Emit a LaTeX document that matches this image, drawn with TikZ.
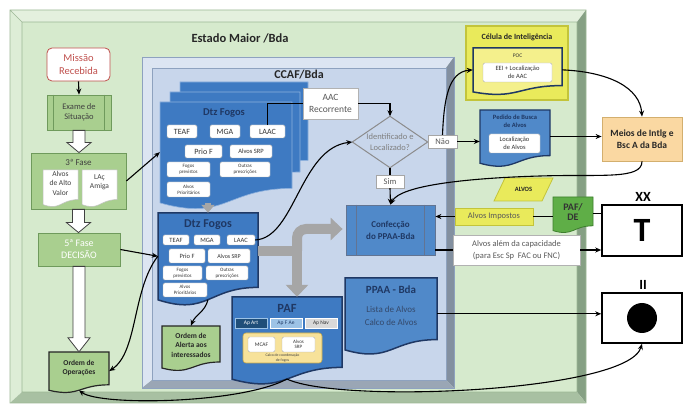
\documentclass[tikz,border=0pt]{standalone}
\usepackage{fontspec}
\setmainfont{Carlito}
\usetikzlibrary{arrows.meta,calc,fit}

\definecolor{gface}{HTML}{D6EACD}
\definecolor{gtop}{HTML}{E4F0DE}
\definecolor{gleft}{HTML}{DDEDD6}
\definecolor{gright}{HTML}{86A084}
\definecolor{gbot}{HTML}{A8C0A2}
\definecolor{gline}{HTML}{9DB896}
\definecolor{bface}{HTML}{C8D6EB}
\definecolor{btop}{HTML}{DCE5F2}
\definecolor{bdark}{HTML}{8390A0}
\definecolor{bbot}{HTML}{9AA6B5}
\definecolor{bline}{HTML}{8EA2BF}
\definecolor{dtzblue}{HTML}{3E7AC2}
\definecolor{dtzedge}{HTML}{8CB0DD}
\definecolor{navy}{HTML}{1F3864}
\definecolor{midblue}{HTML}{5089C9}
\definecolor{grfill}{HTML}{A9CF8F}
\definecolor{grdraw}{HTML}{6F9A5C}
\definecolor{ylw}{HTML}{E9EA5B}
\definecolor{ylwdraw}{HTML}{C3C43A}
\definecolor{lylw}{HTML}{F4F08C}
\definecolor{calco}{HTML}{F7E29A}
\definecolor{calcodraw}{HTML}{C9A94A}
\definecolor{orng}{HTML}{FAD8A2}
\definecolor{orngdraw}{HTML}{D3AF6E}
\definecolor{pafg}{HTML}{5FAE47}
\definecolor{pafgd}{HTML}{3D7F2D}
\definecolor{missred}{HTML}{C0504D}
\definecolor{apart}{HTML}{1F4E79}
\definecolor{apfae}{HTML}{9DC3E6}
\definecolor{apnav}{HTML}{D9D9D9}
\definecolor{garrow}{HTML}{A6A6A6}
\definecolor{txtgray}{HTML}{595959}
\definecolor{slate}{HTML}{34496B}

% document shape: style, name, x1, y1, x2, y2 (y downward)
\newcommand{\DocShape}[6]{%
  \path[#1] (#3,#4) -- (#5,#4) -- (#5,{#4+0.8*(#6-#4)})
    .. controls ({(#3+#5)/2},{#4+0.8*(#6-#4)}) and ({(#3+#5)/2},{#4+1.107*(#6-#4)}) ..
    (#3,{#4+0.934*(#6-#4)}) -- cycle;
  \node[inner sep=0pt, fit={(#3,#4) (#5,{#4+0.93*(#6-#4)})}] (#2) {};
}
% hollow downward arrow between two anchors: from, to, shaft half, head half, head length
\newcommand{\HollowDown}[5]{%
  \draw[fill=white, draw=black!75, line width=0.8pt] let \p1=(#1), \p2=(#2) in
    (\x1-#3pt,\y1) -- (\x1+#3pt,\y1) -- (\x1+#3pt,\y2+#5pt) -- (\x1+#4pt,\y2+#5pt)
    -- (\x1,\y2) -- (\x1-#4pt,\y2+#5pt) -- (\x1-#3pt,\y2+#5pt) -- cycle;
}

\begin{document}
\begin{tikzpicture}[x=1pt,y=-1pt,
  conn/.style={draw=black, line width=1.1pt},
  arr/.style={conn, -{Stealth[length=6pt,width=5pt]}},
  wbox/.style={draw=black!30, fill=white, rounded corners=1.5pt, inner sep=0pt, align=center, text=black!80},
  txt/.style={inner sep=0pt, align=center},
  gbox/.style={fill=grfill, draw=grdraw, line width=0.8pt, inner sep=0pt, align=center},
  gyarr/.style={draw=garrow, line width=10pt, -{Triangle[width=22pt,length=12pt]}}]

\useasboundingbox (0,0) rectangle (689,406);
\fill[white] (0,0) rectangle (689,406);

% ---------- green panel
\fill[gtop] (10,10) -- (586,10) -- (577,22) -- (22,22) -- cycle;
\fill[gleft] (10,10) -- (22,22) -- (22,392) -- (10,403) -- cycle;
\fill[gright] (586,10) -- (586,403) -- (577,392) -- (577,22) -- cycle;
\fill[gbot] (10,403) -- (22,392) -- (577,392) -- (586,403) -- cycle;
\fill[gface] (22,22) rectangle (577,392);
\draw[gline, line width=.7pt] (10,10) rectangle (586,403) (22,22) rectangle (577,392) (10,10) -- (22,22);

% ---------- CCAF panel
\fill[btop] (142,57) -- (454,57) -- (446,68) -- (152,68) -- cycle;
\fill[btop] (142,57) -- (152,68) -- (152,380) -- (142,388) -- cycle;
\fill[bdark] (454,57) -- (454,388) -- (446,380) -- (446,68) -- cycle;
\fill[bbot] (142,388) -- (152,380) -- (446,380) -- (454,388) -- cycle;
\fill[bface] (152,68) rectangle (446,380);
\draw[bline, line width=.6pt] (142,57) rectangle (454,388) (152,68) rectangle (446,380);

\node[txt, font=\bfseries\fontsize{12.5}{14}\selectfont, text=black!85] (emtitle) at (240,38) {Estado Maior /Bda};
\node[txt, font=\bfseries\fontsize{12}{14}\selectfont, text=black!85] (ccaftitle) at (299,75) {CCAF/Bda};

% ---------- left column
\node[draw=missred, fill=white, rounded corners=5pt, line width=0.8pt, minimum width=63, minimum height=33, align=center, inner sep=0pt, text=missred, font=\fontsize{10.5}{12.5}\selectfont] (miss) at (78.5,64.5) {Missão\\Recebida};

\node[gbox, minimum width=64, minimum height=35, font=\fontsize{8.5}{10}\selectfont, text=black!75] (exam) at (79,112.5) {Exame de\\Situação};
\draw[grdraw, line width=.8pt] ([xshift=7pt]exam.north west) -- ([xshift=7pt]exam.south west) ([xshift=-7pt]exam.north east) -- ([xshift=-7pt]exam.south east);

\node[gbox, minimum width=95, minimum height=56] (f3) at (78.5,181) {};
\node[txt, font=\fontsize{9}{10}\selectfont, text=black!75] (f3t) at (78.5,162) {3ª Fase};
\DocShape{fill=white, draw=black!25, line width=.5pt}{aav}{43}{170}{78}{207}
\node[txt, font=\fontsize{7.5}{9.5}\selectfont, text=black!75] (aavt) at (60.5,183) {Alvos\\de Alto\\Valor};
\DocShape{fill=white, draw=black!25, line width=.5pt}{lac}{82}{170}{117}{207}
\node[txt, font=\fontsize{7.5}{9.5}\selectfont, text=black!75] (lact) at (99.5,182) {LAç\\Amiga};

\node[gbox, minimum width=82, minimum height=33, text=white, font=\fontsize{10}{12}\selectfont] (f5) at (79,249.5) {5ª Fase\\DECISÃO};

\DocShape{fill=grfill, draw=black!85, line width=1.2pt}{oop}{49}{352}{109}{393}
\node[txt, font=\bfseries\fontsize{7.5}{9.5}\selectfont, text=black!85] (oopt) at (79,368) {Ordem de\\Operações};

\HollowDown{exam.south}{f3.north}{6}{12}{10}
\HollowDown{f3.south}{f5.north}{6}{12}{10}
\HollowDown{f5.south}{oop.north}{6}{11}{14}

% ---------- top Dtz Fogos stack
\DocShape{fill=dtzblue, draw=dtzedge, line width=.6pt}{dtzbb}{180}{82}{308}{180}
\DocShape{fill=dtzblue, draw=dtzedge, line width=.6pt}{dtzb}{170}{92}{300}{192}
\DocShape{fill=dtzblue, draw=dtzedge, line width=.6pt}{dtz1}{160}{102}{292}{210}
\node[txt, font=\bfseries\fontsize{10.5}{12}\selectfont, text=navy] (dtz1t) at (224,113) {Dtz Fogos};
\node[wbox, minimum width=30, minimum height=13, font=\fontsize{8}{9}\selectfont] (teaf1) at (182,131.5) {TEAF};
\node[wbox, minimum width=30, minimum height=13, font=\fontsize{8}{9}\selectfont] (mga1) at (225,131.5) {MGA};
\node[wbox, minimum width=35, minimum height=13, font=\fontsize{8}{9}\selectfont] (laac1) at (267.5,131.5) {LAAC};
\node[wbox, minimum width=37, minimum height=13, font=\fontsize{8}{9}\selectfont] (prio1) at (203.5,151.5) {Prio F};
\node[wbox, minimum width=42, minimum height=13, font=\fontsize{6.5}{7.5}\selectfont] (srp1) at (251,151.5) {Alvos SRP};
\node[wbox, minimum width=43, minimum height=15, font=\fontsize{5}{5.8}\selectfont] (fp1) at (188.5,169.5) {Fogos\\previstos};
\node[wbox, minimum width=50, minimum height=15, font=\fontsize{5}{5.8}\selectfont] (op1) at (245,169.5) {Outras\\prescrições};
\node[wbox, minimum width=43, minimum height=15, font=\fontsize{5}{5.8}\selectfont] (ap1) at (188.5,189.5) {Alvos\\Prioritários};

% ---------- lower Dtz Fogos
\DocShape{fill=dtzblue, draw=navy, line width=1.5pt}{dtz2}{158}{213}{258}{306}
\node[txt, font=\bfseries\fontsize{12}{14}\selectfont, text=navy] (dtz2t) at (208,225) {Dtz Fogos};
\node[wbox, minimum width=26, minimum height=10, font=\fontsize{6.5}{7}\selectfont] (teaf2) at (176,240) {TEAF};
\node[wbox, minimum width=26, minimum height=10, font=\fontsize{6.5}{7}\selectfont] (mga2) at (207,240) {MGA};
\node[wbox, minimum width=28, minimum height=10, font=\fontsize{6.5}{7}\selectfont] (laac2) at (241,240) {LAAC};
\node[wbox, minimum width=36, minimum height=14, font=\fontsize{6.5}{7}\selectfont] (prio2) at (187,256) {Prio F};
\node[wbox, minimum width=42, minimum height=14, font=\fontsize{6}{7}\selectfont] (srp2) at (229,256) {Alvos SRP};
\node[wbox, minimum width=39, minimum height=14, font=\fontsize{5}{5.8}\selectfont] (fp2) at (182.5,273) {Fogos\\previstos};
\node[wbox, minimum width=42, minimum height=14, font=\fontsize{5}{5.8}\selectfont] (op2) at (227,273) {Outras\\prescrições};
\node[wbox, minimum width=44, minimum height=14, font=\fontsize{5}{5.8}\selectfont] (ap2) at (185,290) {Alvos\\Prioritários};

% ---------- Ordem de Alerta
\DocShape{fill=grfill, draw=black!85, line width=1.2pt}{alerta}{162}{326}{220}{371}
\node[txt, font=\bfseries\fontsize{7.5}{9.5}\selectfont, text=black!85] (alertat) at (191,345) {Ordem de\\Alerta aos\\interessados};

% ---------- PAF
\DocShape{fill=dtzblue, draw=navy, line width=1.5pt}{paf}{232}{297}{342}{385}
\node[txt, font=\bfseries\fontsize{12.5}{14}\selectfont, text=navy] (paft) at (287,308) {PAF};
\node[draw=apfae, fill=apart, text=white, minimum width=32, minimum height=10, inner sep=0pt, font=\fontsize{5.5}{6}\selectfont] (apart) at (251,323) {Ap Art};
\node[draw=white, fill=apfae, text=navy, minimum width=32, minimum height=10, inner sep=0pt, font=\fontsize{5.5}{6}\selectfont] (apfae) at (286,323) {Ap F Ae};
\node[draw=white, fill=apnav, text=black!80, minimum width=32, minimum height=10, inner sep=0pt, font=\fontsize{5.5}{6}\selectfont] (apnav) at (321,323) {Ap Nav};
\node[fill=calco, draw=calcodraw, line width=.6pt, rounded corners=3pt, minimum width=79, minimum height=30, inner sep=0pt] (calco) at (282.5,348) {};
\node[wbox, minimum width=27, minimum height=15, font=\fontsize{5.5}{6}\selectfont] (mcaf) at (261.5,344.5) {MCAF};
\node[wbox, minimum width=33, minimum height=15, font=\fontsize{5}{5.5}\selectfont] (srp3) at (298.5,344.5) {Alvos\\SRP};
\node[txt, font=\fontsize{3.8}{4.3}\selectfont, text=black!75] (calcot) at (282.5,358) {Calco de coordenação\\de fogos};

% ---------- AAC, decision
\node[wbox, rounded corners=0pt, minimum width=55, minimum height=31, font=\fontsize{9.5}{12}\selectfont, text=txtgray] (aac) at (330.5,103.5) {AAC\\Recorrente};
\node[txt, minimum width=75, minimum height=51, text=black!50, font=\fontsize{8.5}{11}\selectfont] (dia) at (390,142) {Identificado e\\Localizado?};
\draw[black!45, line width=1pt] (dia.north) -- (dia.east) -- (dia.south) -- (dia.west) -- cycle;
\node[wbox, rounded corners=0pt, draw=black!35, minimum width=29, minimum height=13, font=\fontsize{8.5}{10}\selectfont, text=txtgray] (nao) at (442.5,141.5) {Não};
\node[wbox, rounded corners=0pt, draw=black!35, minimum width=28, minimum height=13, font=\fontsize{8.5}{10}\selectfont, text=txtgray] (sim) at (390,181.5) {Sim};

% ---------- Confeccao, PPAA
\node[fill=midblue, draw=navy!70, line width=.8pt, minimum width=89, minimum height=50, inner sep=0pt, align=center, text=navy, font=\bfseries\fontsize{9}{12}\selectfont] (conf) at (390.5,230) {Confecção\\do PPAA-Bda};
\draw[navy!70, line width=.8pt] ([xshift=11pt]conf.north west) -- ([xshift=11pt]conf.south west) ([xshift=-11pt]conf.north east) -- ([xshift=-11pt]conf.south east);
\DocShape{fill=midblue, draw=navy, line width=1.5pt}{ppaa}{345}{278}{437}{355}
\node[txt, font=\bfseries\fontsize{11}{13}\selectfont, text=navy] (ppaat) at (391,290) {PPAA - Bda};
\node[txt, font=\fontsize{9}{13}\selectfont, text=slate] (ppaal) at (391,316) {Lista de Alvos\\Calco de Alvos};

% ---------- intelligence
\node[fill=ylw, draw=ylwdraw, line width=1.5pt, minimum width=102, minimum height=74, inner sep=0pt] (cel) at (517,63) {};
\node[txt, font=\bfseries\fontsize{8}{10}\selectfont, text=black!85] (celt) at (517,37) {Célula de Inteligência};
\DocShape{fill=lylw, draw=navy, line width=1.5pt}{poc}{473}{48}{562}{95}
\node[txt, font=\fontsize{5.5}{6}\selectfont, text=black!80] (poct) at (517.5,55.5) {POC};
\node[wbox, minimum width=69, minimum height=19, font=\fontsize{6.5}{7.5}\selectfont] (eei) at (517.5,72.5) {EEI + Localização\\de AAC};

\DocShape{fill=midblue, draw=navy, line width=1.3pt}{ped}{480}{110}{550}{167}
\node[txt, font=\bfseries\fontsize{6.5}{7.5}\selectfont, text=navy] (pedt) at (515,121) {Pedido de Busca\\de Alvos};
\node[wbox, minimum width=51, minimum height=19, font=\fontsize{6.5}{7.5}\selectfont] (loc) at (514.5,143.5) {Localização\\de Alvos};

\node[fill=orng, draw=orngdraw, line width=.8pt, minimum width=80, minimum height=44, inner sep=0pt, align=center, font=\bfseries\fontsize{9.5}{12}\selectfont, text=black!85] (meios) at (642,139) {Meios de Intlg e\\Bsc A da Bda};

% ---------- right side
\path[fill=ylw, draw=ylwdraw, line width=.8pt] (505,178) -- (553,178) -- (542,201) -- (494,201) -- cycle;
\node[txt, font=\bfseries\fontsize{6.5}{7}\selectfont, text=black!85, minimum width=58, minimum height=23] (alvos) at (523.5,189.5) {ALVOS};
\node[fill=ylw, draw=ylwdraw, line width=.8pt, minimum width=78, minimum height=17, inner sep=0pt, font=\fontsize{8.5}{10}\selectfont, text=txtgray] (imp) at (494,216.5) {Alvos Impostos};
\DocShape{fill=pafg, draw=pafgd, line width=.8pt}{pafde}{553}{197}{593}{233}
\node[txt, font=\bfseries\fontsize{10}{10}\selectfont, text=black!80] (pafdet) at (573,212) {PAF/\\DE};
\node[fill=white, draw=black!30, line width=.6pt, minimum width=127, minimum height=30, inner sep=0pt, align=center, font=\fontsize{8.5}{12}\selectfont, text=txtgray] (alem) at (516.5,250) {Alvos além da capacidade\\(para Esc Sp\ \ FAC ou FNC)};

\node[draw=black, line width=1.5pt, fill=white, minimum width=80, minimum height=51, inner sep=0pt, font=\bfseries\fontsize{34}{36}\selectfont] (tbox) at (642,230.5) {T};
\node[txt, font=\bfseries\fontsize{14}{16}\selectfont] (xx) at (643,197) {XX};
\node[draw=black, line width=1.5pt, fill=white, minimum width=80, minimum height=50, inner sep=0pt] (iibox) at (642,318) {};
\node[txt, font=\bfseries\fontsize{14}{16}\selectfont] (ii) at (643,285) {II};
\node[circle, fill=black, minimum size=30, inner sep=0pt] (dot) at (642,318) {};

% ---------- grey arrows
\draw[draw=garrow, line width=6pt, -{Triangle[width=13pt,length=8pt]}] (dtz1.south -| dtz2.north) -- (dtz2.north);
\coordinate (gs) at (297,251);
\coordinate (gup) at (297,229);
\draw[gyarr] (dtz2.east |- gs) -- (gs) -- (gs |- paf.north);
\draw[gyarr, rounded corners=9pt] (gs) -- (gup) -- ([xshift=-3pt]gup -| conf.west);

% ---------- connectors
\draw[arr] (miss.south) -- (exam.north);
\draw[arr] (f3.east) -- (dtz1.west);
\draw[arr] (f5.east) -- (dtz2.west);
\draw[arr] (dtz2.west) .. controls (132,290) and (138,352) .. (oop.east);
\draw[arr] (dtz2.south) .. controls (205,312) and (195,315) .. (alerta.north);
\draw[arr] (laac2.east) .. controls (295,238) and (300,148) .. (dia.west);
\draw[conn] (laac1.north) |- (aac.west);
\draw[arr] (aac.east) -| (dia.north);
\draw[conn] (dia.south) -- (sim.north);
\draw[arr] (sim.south) -- (conf.north);
\draw[arr] (nao.north) .. controls (444,100) and (448,72) .. (poc.west);
\draw[arr] (nao.east) -- (nao.east -| ped.west);
\draw[arr] (poc.east) .. controls (610,72) and (640,88) .. (meios.north);
\draw[arr] (ped.east) -- (ped.east -| meios.west);
\draw[arr] (meios.south) .. controls (642,180) and (600,174) .. (540,176) .. controls (470,178) and (400,185) .. (conf.north);
\draw[arr] (imp.west) -- (imp.west -| conf.east);
\draw[conn] (pafde.west |- imp.east) -- (imp.east);
\draw[conn] (pafde.east) -- (pafde.east -| tbox.west);
\draw[conn] (alem.west -| conf.east) -- (alem.west);
\draw[arr] (alem.east) -- (alem.east -| tbox.west);
\draw[arr] (ppaa.east) -- (ppaa.east -| iibox.west);
\draw[arr] (paf.south) .. controls (240,404) and (100,406) .. (oop.south);
\draw[arr] (paf.south) .. controls (340,404) and (628,392) .. (iibox.south);

\end{tikzpicture}
\end{document}
